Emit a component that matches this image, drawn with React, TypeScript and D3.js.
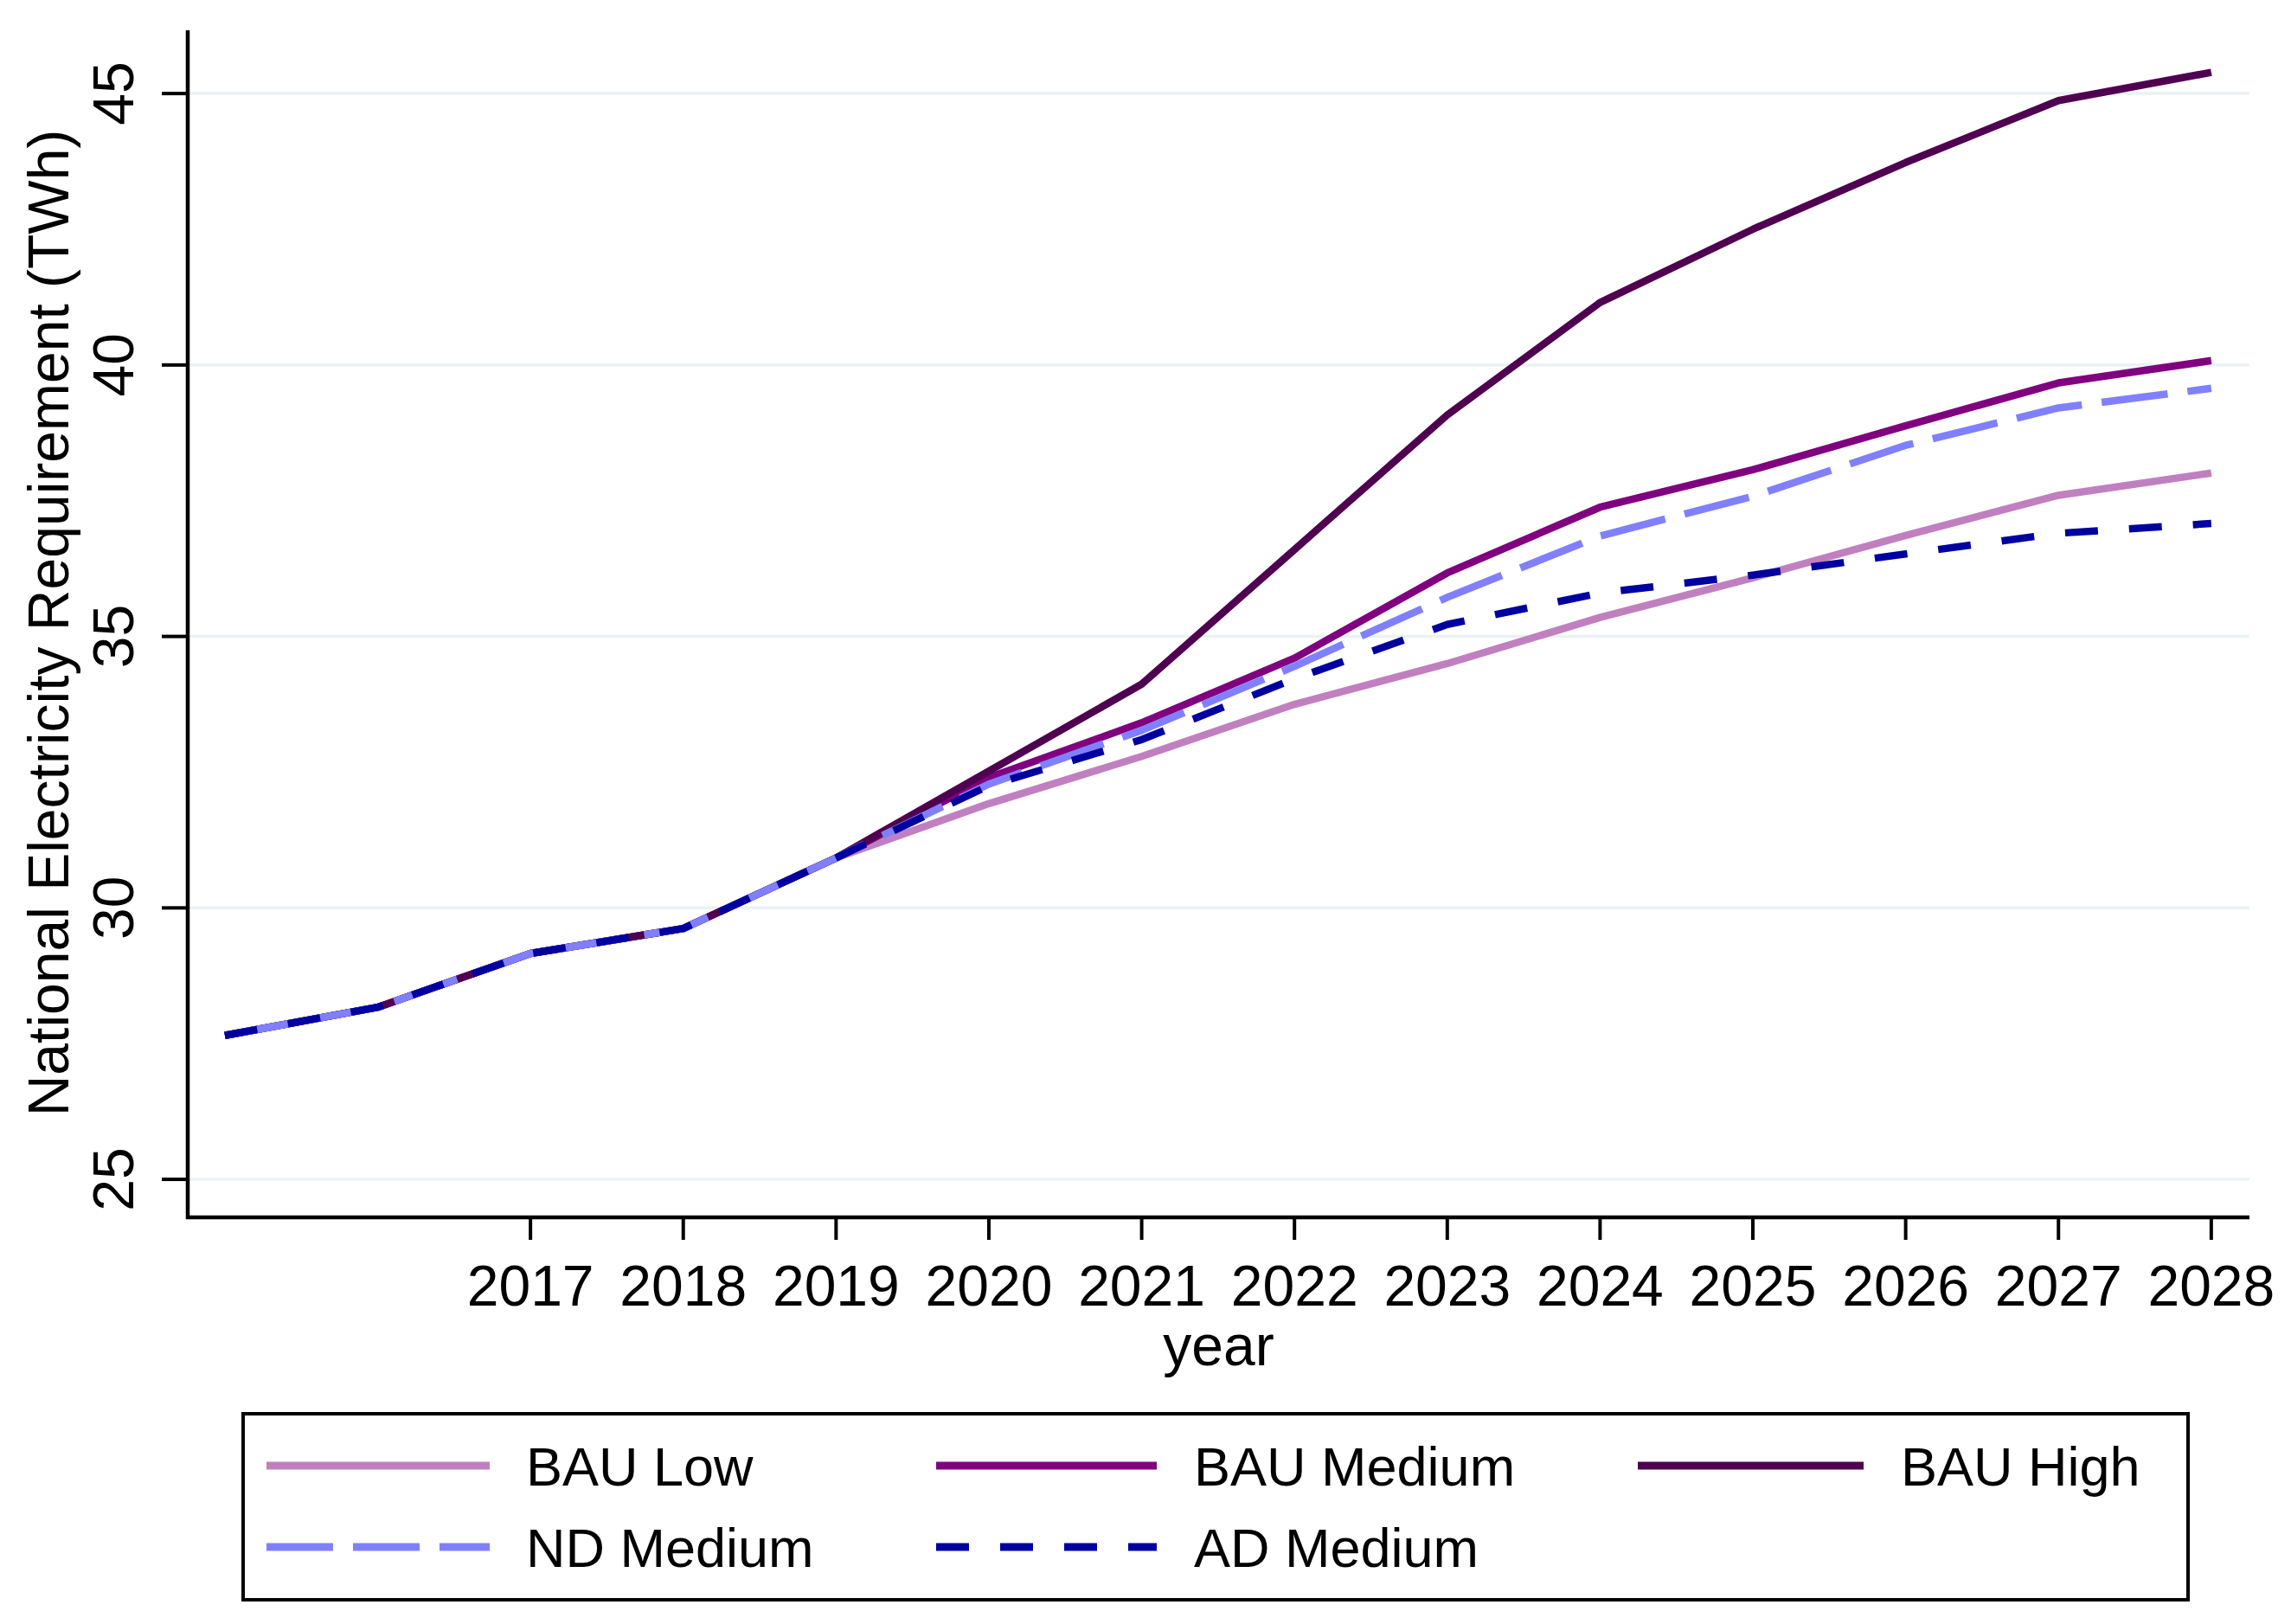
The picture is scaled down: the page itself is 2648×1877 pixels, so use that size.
import React from 'react';
import * as d3 from 'd3';

// years and scenario values (TWh)
const years = [2015, 2016, 2017, 2018, 2019, 2020, 2021, 2022, 2023, 2024, 2025, 2026, 2027, 2028];
const bauLow = [27.65, 28.17, 29.16, 29.62, 30.92, 31.92, 32.79, 33.75, 34.5, 35.35, 36.08, 36.86, 37.6, 38.01];
const bauMedium = [27.65, 28.17, 29.16, 29.62, 30.92, 32.4, 33.41, 34.6, 36.17, 37.38, 38.07, 38.88, 39.67, 40.08];
const bauHigh = [27.65, 28.17, 29.16, 29.62, 30.92, 32.52, 34.12, 36.6, 39.08, 41.15, 42.5, 43.73, 44.87, 45.39];
const ndMedium = [27.65, 28.17, 29.16, 29.62, 30.92, 32.28, 33.27, 34.45, 35.72, 36.85, 37.58, 38.52, 39.21, 39.57];
const adMedium = [27.65, 28.17, 29.16, 29.62, 30.92, 32.25, 33.1, 34.22, 35.22, 35.8, 36.13, 36.52, 36.9, 37.08];

const xTicks = [2017, 2018, 2019, 2020, 2021, 2022, 2023, 2024, 2025, 2026, 2027, 2028];
const yTicks = [25, 30, 35, 40, 45];

const series = [
  { name: 'BAU Low', values: bauLow, color: '#C080C0', dash: null },
  { name: 'BAU Medium', values: bauMedium, color: '#800080', dash: null },
  { name: 'BAU High', values: bauHigh, color: '#500050', dash: null },
  { name: 'ND Medium', values: ndMedium, color: '#8080FF', dash: '77,23' },
  { name: 'AD Medium', values: adMedium, color: '#0000A0', dash: '38,36' },
];

const W = 2648;
const H = 1877;
const FONT = '"Liberation Sans", Arial, sans-serif';
const FS = 66;
const LEG_FS = 63;

export default function App() {
  const left = 217, right = 2600, top = 35, bottom = 1407;

  const x = d3.scaleLinear().domain([2014.757, 2028.25]).range([left, right]);
  const y = d3.scaleLinear().domain([24.3, 46.165]).range([bottom, top]);

  const line = d3.line<number>()
    .x((_, i) => x(years[i]))
    .y(d => y(d));

  // legend layout: 3 columns, 2 rows
  const legCols = [
    { x1: 308, x2: 566, tx: 608 },
    { x1: 1082, x2: 1337, tx: 1380 },
    { x1: 1893, x2: 2154, tx: 2197 },
  ];
  const legRows = [{ ly: 1694, ty: 1717 }, { ly: 1788, ty: 1811 }];

  return (
    <div style={{ position: 'absolute', left: 0, top: 0 }}>
      <svg width={W} height={H} viewBox={`0 0 ${W} ${H}`} style={{ display: 'block', background: '#fff' }}>
        <rect x={0} y={0} width={W} height={H} fill="#ffffff" />

        {/* gridlines */}
        {yTicks.map(t => (
          <line key={'g' + t} x1={left} x2={right} y1={y(t)} y2={y(t)} stroke="#EAF2F3" strokeWidth={3.5} />
        ))}

        {/* series */}
        {series.map(s => (
          <path
            key={s.name}
            d={line(s.values) || ''}
            fill="none"
            stroke={s.color}
            strokeWidth={8.5}
            strokeDasharray={s.dash || undefined}
            strokeLinejoin="round"
          />
        ))}

        {/* axes */}
        <line x1={left} x2={left} y1={top} y2={bottom + 2} stroke="#000" strokeWidth={4.5} />
        <line x1={left - 2} x2={right} y1={bottom} y2={bottom} stroke="#000" strokeWidth={4.5} />

        {yTicks.map(t => (
          <g key={'yt' + t}>
            <line x1={left - 30} x2={left} y1={y(t)} y2={y(t)} stroke="#000" strokeWidth={4} />
            <text
              transform={`translate(154, ${y(t)}) rotate(-90)`}
              textAnchor="middle"
              fontFamily={FONT}
              fontSize={FS}
              fill="#000"
            >
              {t}
            </text>
          </g>
        ))}

        {xTicks.map(t => (
          <g key={'xt' + t}>
            <line x1={x(t)} x2={x(t)} y1={bottom} y2={bottom + 26} stroke="#000" strokeWidth={4} />
            <text x={x(t)} y={1509} textAnchor="middle" fontFamily={FONT} fontSize={FS} fill="#000">
              {t}
            </text>
          </g>
        ))}

        {/* axis titles */}
        <text
          transform={`translate(79, 720) rotate(-90)`}
          textAnchor="middle"
          fontFamily={FONT}
          fontSize={FS}
          fill="#000"
        >
          National Electricity Requirement (TWh)
        </text>
        <text x={(left + right) / 2} y={1578} textAnchor="middle" fontFamily={FONT} fontSize={FS} fill="#000">
          year
        </text>

        {/* legend */}
        <rect x={281} y={1634} width={2248} height={215} fill="#fff" stroke="#000" strokeWidth={4} />
        {series.map((s, i) => {
          const c = legCols[i % 3];
          const r = legRows[Math.floor(i / 3)];
          return (
            <g key={'leg' + s.name}>
              <line
                x1={c.x1}
                x2={c.x2}
                y1={r.ly}
                y2={r.ly}
                stroke={s.color}
                strokeWidth={9}
                strokeDasharray={s.dash || undefined}
              />
              <text x={c.tx} y={r.ty} fontFamily={FONT} fontSize={LEG_FS} fill="#000">
                {s.name}
              </text>
            </g>
          );
        })}
      </svg>
    </div>
  );
}
